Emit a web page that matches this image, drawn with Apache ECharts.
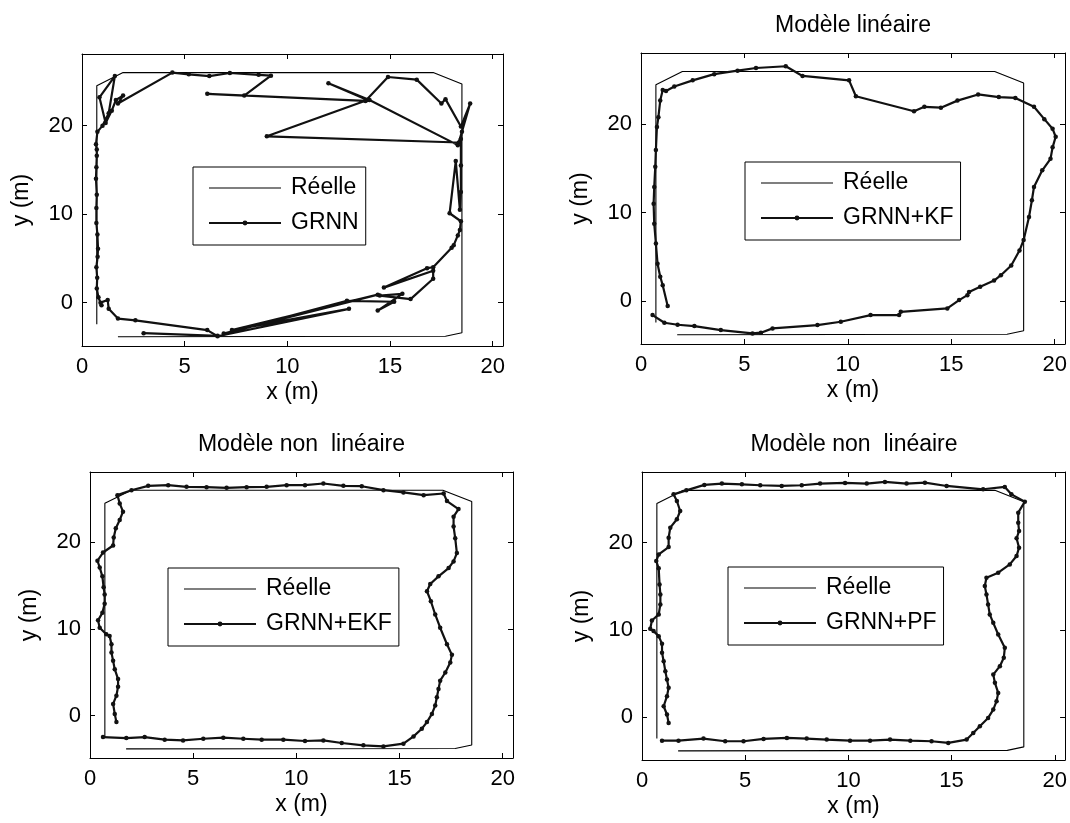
<!DOCTYPE html>
<html>
<head>
<meta charset="utf-8">
<script src="https://cdn.jsdelivr.net/npm/echarts@6/dist/echarts.min.js"></script>
<style>
  html, body { margin: 0; padding: 0; background: #fff; }
  #main { width: 1070px; height: 823px; }
</style>
</head>
<body>
<div id="main"></div>
<script>
// ticks
const xTicks = [0, 5, 10, 15, 20];
const yTicks = [0, 10, 20];

// true trajectory (Réelle), same in every panel
const reelle = [[0.72,-2.45],[0.72,24.5],[2.0,26.0],[17.1,26.0],[18.5,24.7],[18.5,-3.4],[17.7,-3.8],[1.75,-3.85]];

// GRNN estimate
const grnn = [[0.95,-0.3],[0.8,0.6],[0.72,1.6],[0.74,2.8],[0.7,4.0],[0.76,5.2],[0.78,6.1],[0.75,7.7],[0.7,9.0],
  [0.7,10.7],[0.72,12.2],[0.68,14.0],[0.7,15.3],[0.72,16.6],[0.72,17.3],[0.68,17.9],[0.75,19.3],[1.0,20.0],
  [1.3,21.4],[1.6,25.6],[0.85,23.2],[1.15,20.3],[1.45,21.7],[1.65,22.9],[2.0,23.4],[1.75,22.5],[4.4,26.0],
  [5.2,25.8],[6.2,25.6],[7.2,25.95],[8.6,25.75],[9.2,25.65],[7.9,23.4],[6.1,23.6],[13.8,22.8],[14.9,25.5],
  [16.3,25.2],[17.5,22.5],[17.7,23.0],[18.45,19.9],[18.9,22.5],[18.35,18.1],[9.0,18.8],[13.9,22.9],[12.0,24.8],
  [14.0,22.9],[18.3,17.8],[18.5,19.3],[18.45,18.5],[18.45,15.5],[18.45,12.5],[18.4,10.5],[18.2,16.0],[17.9,10.1],
  [18.45,9.2],[18.4,8.2],[18.3,7.6],[18.1,6.5],[18.0,6.2],[17.1,4.0],[16.8,3.9],[14.7,1.7],[17.1,3.6],[17.1,2.7],
  [16.0,0.4],[14.5,0.8],[15.6,1.0],[14.4,-0.9],[15.2,0.1],[12.9,0.2],[6.9,-3.5],[14.4,0.9],[7.3,-3.1],[13.0,-0.7],
  [6.6,-3.8],[6.1,-3.1],[2.6,-2.0],[1.75,-1.8],[1.3,-0.7],[1.25,0.3],[0.9,0.0]];
const grnnTail = [[3.0,-3.45],[6.6,-3.75]];

// GRNN + KF
const grnnKF = [[1.29,-0.6],[1.05,1.77],[0.93,2.72],[0.8,4.2],[0.72,6.5],[0.64,8.75],[0.61,11.0],[0.64,12.9],
  [0.69,15.2],[0.72,17.1],[0.77,19.7],[0.84,20.8],[0.93,22.7],[1.05,23.9],[1.21,23.8],[1.61,24.3],[2.5,25.0],
  [3.54,25.7],[4.67,26.1],[5.56,26.4],[7.0,26.6],[7.81,25.5],[10.06,25.0],[10.39,23.2],[13.2,21.5],[13.7,22.0],
  [14.5,21.9],[15.3,22.7],[16.3,23.4],[17.3,23.1],[18.1,23.0],[19.0,22.0],[19.5,20.6],[19.9,19.5],[20.05,18.6],
  [19.9,17.4],[19.8,16.1],[19.4,14.8],[19.0,12.9],[18.9,11.4],[18.76,9.5],[18.5,6.9],[18.3,5.7],[17.9,4.0],
  [17.4,2.9],[17.07,2.3],[16.4,1.6],[15.86,1.0],[15.78,0.64],[15.38,0.08],[14.81,-0.87],[12.56,-1.25],
  [12.48,-1.62],[11.1,-1.62],[9.66,-2.38],[8.53,-2.75],[6.36,-3.13],[5.8,-3.62],[5.39,-3.7],[3.86,-3.32],
  [2.58,-2.87],[1.77,-2.72],[1.13,-2.49],[0.56,-1.62]];

// GRNN + EKF
const grnnEKF = [[1.28,-0.76],[1.2,0.19],[1.12,1.34],[1.28,2.29],[1.36,3.33],[1.36,4.21],[1.2,5.35],[1.12,6.31],
  [1.04,7.27],[1.04,8.22],[0.95,9.18],[0.79,9.37],[0.47,10.13],[0.39,10.98],[0.6,11.85],[0.71,12.89],[0.71,13.96],
  [0.66,14.8],[0.6,16.06],[0.47,17.09],[0.36,17.86],[0.63,18.81],[1.12,19.62],[1.15,20.54],[1.25,21.6],[1.44,22.56],
  [1.6,23.52],[1.44,24.47],[1.33,25.43],[2.01,26.0],[2.82,26.5],[3.79,26.58],[4.68,26.39],[5.65,26.35],[6.62,26.27],
  [7.59,26.35],[8.56,26.39],[9.53,26.58],[10.42,26.58],[11.31,26.77],[12.28,26.5],[13.17,26.46],[14.22,26.0],
  [15.19,25.74],[16.17,25.43],[17.14,25.62],[17.3,24.74],[17.86,23.82],[17.62,22.94],[17.62,21.8],[17.7,20.46],
  [17.78,18.74],[17.62,17.78],[17.38,17.02],[16.89,16.06],[16.49,15.18],[16.33,14.34],[16.52,13.19],[16.73,11.66],
  [16.97,10.13],[17.3,8.22],[17.54,7.0],[17.46,6.12],[17.22,4.97],[16.97,4.02],[16.89,3.06],[16.81,2.1],
  [16.73,1.15],[16.57,0.19],[16.33,-0.76],[16.08,-1.53],[15.68,-2.41],[15.19,-3.25],[14.22,-3.56],[13.25,-3.44],
  [12.2,-3.17],[11.31,-2.87],[10.42,-2.94],[9.37,-2.79],[8.32,-2.79],[7.43,-2.68],[6.46,-2.56],[5.49,-2.68],
  [4.51,-2.87],[3.62,-2.79],[2.65,-2.49],[1.76,-2.6],[0.63,-2.49]];

// GRNN + PF
const grnnPF = [[1.29,-0.65],[1.21,0.31],[1.05,1.26],[1.21,2.41],[1.29,3.37],[1.21,4.32],[1.13,5.28],[1.05,6.42],
  [0.97,7.38],[0.97,8.41],[0.81,9.29],[0.56,9.87],[0.4,10.13],[0.48,11.09],[0.81,11.78],[0.89,12.93],[0.89,14.07],
  [0.85,15.22],[0.81,17.06],[0.69,17.9],[0.81,18.66],[1.29,19.5],[1.29,20.57],[1.37,21.72],[1.69,22.68],[1.85,23.63],
  [1.69,24.78],[1.53,25.54],[2.15,26.0],[3.02,26.62],[3.87,26.77],[4.84,26.69],[5.73,26.58],[6.77,26.5],[7.74,26.58],
  [8.63,26.77],[9.84,26.85],[10.89,26.77],[11.77,26.96],[12.82,26.77],[13.71,26.88],[14.76,26.5],[16.53,26.12],
  [17.58,26.39],[17.9,25.54],[18.55,24.7],[18.23,23.44],[18.23,22.29],[18.27,21.34],[18.15,20.5],[18.27,19.43],
  [18.15,18.47],[17.82,17.51],[17.26,16.56],[16.69,15.98],[16.61,15.03],[16.69,14.07],[16.77,12.93],[16.85,11.78],
  [17.02,10.82],[17.26,9.48],[17.58,7.95],[17.53,6.81],[17.34,5.85],[17.02,4.89],[17.1,3.94],[17.26,2.79],
  [17.18,1.84],[17.02,0.88],[16.77,-0.08],[16.37,-1.03],[16.05,-1.8],[15.73,-2.56],[14.84,-2.94],[14.03,-2.75],
  [13.0,-2.68],[12.02,-2.56],[11.05,-2.68],[10.08,-2.68],[8.95,-2.56],[7.98,-2.45],[7.02,-2.37],[5.89,-2.49],
  [4.92,-2.75],[4.03,-2.75],[2.98,-2.45],[1.77,-2.68],[0.97,-2.68]];

const FONT = 'Liberation Sans, Arial, Helvetica, sans-serif';
const X_MIN = 0, X_MAX = 20.5, Y_MIN = -4.9, Y_MAX = 28.1;

const panels = [
  { grid: { left: 82, top: 54, width: 421, height: 292 }, title: '', name: 'GRNN', est: [grnn, grnnTail],
    legend: { left: 193, top: 167 } },
  { grid: { left: 641, top: 53, width: 424, height: 291 }, title: 'Modèle linéaire', name: 'GRNN+KF', est: [grnnKF],
    legend: { left: 745, top: 162 } },
  { grid: { left: 90, top: 472, width: 423, height: 286 }, title: 'Modèle non  linéaire', name: 'GRNN+EKF', est: [grnnEKF],
    legend: { left: 168, top: 568 } },
  { grid: { left: 642, top: 472, width: 424, height: 288 }, title: 'Modèle non  linéaire', name: 'GRNN+PF', est: [grnnPF],
    legend: { left: 728, top: 567 } }
];

// thin plain line used as the legend icon of the true path (72 x 6 box, thin bar in the middle)
const thinLineIcon = 'path://M0,0H0.01V6H0ZM0,2.4H72V3.6H0Z';

const grids = [], xAxes = [], yAxes = [], series = [], legends = [], titles = [];
const lineCol = '#000';

panels.forEach((p, i) => {
  grids.push(Object.assign({ show: false }, p.grid));
  const tickStyle = { show: true, inside: true, length: 5, lineStyle: { color: lineCol, width: 1 } };
  // bottom x axis with labels
  xAxes.push({
    type: 'value', gridIndex: i, position: 'bottom', min: X_MIN, max: X_MAX,
    name: 'x (m)', nameLocation: 'middle', nameGap: 35,
    nameTextStyle: { fontSize: 23, color: '#000', fontFamily: FONT },
    axisLine: { show: true, onZero: false, lineStyle: { color: lineCol, width: 1 } },
    axisTick: Object.assign({ customValues: xTicks }, tickStyle),
    axisLabel: { customValues: xTicks, fontSize: 22, color: '#000', fontFamily: FONT, margin: 10 },
    splitLine: { show: false }
  });
  // top x axis: frame + ticks only
  xAxes.push({
    type: 'value', gridIndex: i, position: 'top', min: X_MIN, max: X_MAX,
    axisLine: { show: true, onZero: false, lineStyle: { color: lineCol, width: 1 } },
    axisTick: Object.assign({ customValues: xTicks }, tickStyle),
    axisLabel: { show: false }, splitLine: { show: false }
  });
  yAxes.push({
    type: 'value', gridIndex: i, position: 'left', min: Y_MIN, max: Y_MAX,
    name: 'y (m)', nameLocation: 'middle', nameGap: 49,
    nameTextStyle: { fontSize: 23, color: '#000', fontFamily: FONT },
    axisLine: { show: true, onZero: false, lineStyle: { color: lineCol, width: 1 } },
    axisTick: Object.assign({ customValues: yTicks }, tickStyle),
    axisLabel: { customValues: yTicks, fontSize: 22, color: '#000', fontFamily: FONT, margin: 9 },
    splitLine: { show: false }
  });
  yAxes.push({
    type: 'value', gridIndex: i, position: 'right', min: Y_MIN, max: Y_MAX,
    axisLine: { show: true, onZero: false, lineStyle: { color: lineCol, width: 1 } },
    axisTick: Object.assign({ customValues: yTicks }, tickStyle),
    axisLabel: { show: false }, splitLine: { show: false }
  });

  series.push({
    type: 'line', name: 'Réelle', xAxisIndex: 2 * i, yAxisIndex: 2 * i,
    data: reelle, symbol: 'none', showSymbol: false, silent: true,
    lineStyle: { color: '#000', width: 1.1 }, itemStyle: { color: '#000' }, z: 2
  });
  p.est.forEach(pts => {
    series.push({
      type: 'line', name: p.name, xAxisIndex: 2 * i, yAxisIndex: 2 * i,
      data: pts, symbol: 'circle', symbolSize: 4.5, showSymbol: true, showAllSymbol: true, silent: true,
      lineStyle: { color: '#111', width: 2.2 }, itemStyle: { color: '#111', borderWidth: 0 }, z: 3
    });
  });

  legends.push({
    data: [{ name: 'Réelle', icon: thinLineIcon }, p.name], orient: 'vertical',
    left: p.legend.left, top: p.legend.top,
    backgroundColor: '#fff', borderColor: '#000', borderWidth: 1, borderRadius: 0,
    padding: [9, 7, 10, 15], itemGap: 11, itemWidth: 72, itemHeight: 6,
    selectedMode: false,
    textStyle: { fontSize: 23, lineHeight: 24, color: '#000', fontFamily: FONT, padding: [0, 0, 0, 5] }
  });

  if (p.title) {
    titles.push({
      text: p.title, left: p.grid.left + p.grid.width / 2, top: p.grid.top - 39, textAlign: 'center', padding: 0,
      textStyle: { fontSize: 23, fontWeight: 'normal', color: '#000', fontFamily: FONT }
    });
  }
});

const chart = echarts.init(document.getElementById('main'));
chart.setOption({
  animation: false,
  backgroundColor: '#fff',
  textStyle: { fontFamily: FONT },
  title: titles,
  legend: legends,
  grid: grids,
  xAxis: xAxes,
  yAxis: yAxes,
  series: series
});
</script>
</body>
</html>
